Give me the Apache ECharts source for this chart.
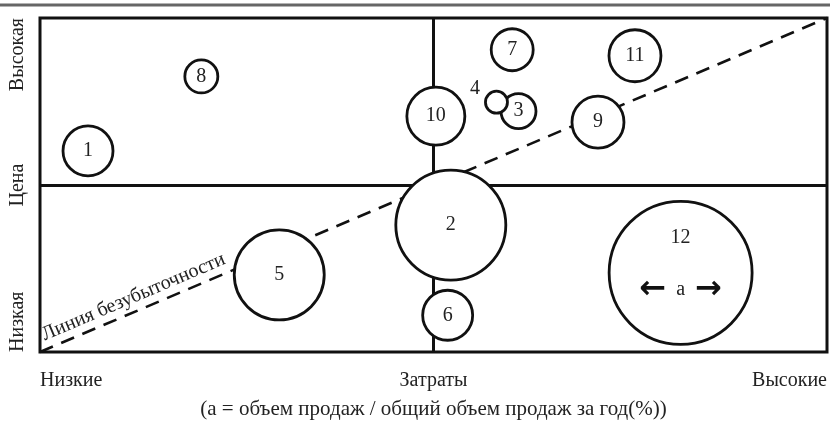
<!DOCTYPE html>
<html lang="ru">
<head>
<meta charset="UTF-8">
<title>Затраты / Цена</title>
<script src="https://cdn.jsdelivr.net/npm/echarts@6/dist/echarts.min.js"></script>
<style>
  html, body { margin: 0; padding: 0; background: #fff; }
  #Main { width: 830px; height: 425px; }
</style>
</head>
<body>
<div id="Main"></div>
<script type="text/javascript">
// номера товаров
var names = ['1', '2', '3', '4', '5', '6', '7', '8', '9', '10', '11', '12'];
// затраты (0..100)
var costs = [6.1, 52.2, 60.8, 58.0, 30.4, 51.8, 60.0, 20.5, 70.9, 50.3, 75.6, 81.4];
// цена (0..100)
var prices = [60.2, 38.0, 72.1, 74.8, 23.1, 11.0, 90.5, 82.5, 68.8, 70.6, 88.7, 23.7];
// a = доля продаж
var shares = [5.0, 11.0, 3.5, 2.2, 9.0, 5.0, 4.2, 3.3, 5.2, 5.8, 5.2, 14.3];
// подписи осей
var xTicks = ['Низкие', 'Затраты', 'Высокие'];
var yTicks = ['Низкая', 'Цена', 'Высокая'];

var serif = '"Liberation Serif", "Times New Roman", serif';
var myChart = echarts.init(document.getElementById('Main'), null, { renderer: 'canvas' });

var points = [];
for (var i = 0; i < names.length; i++) {
    var item = { value: [costs[i], prices[i], shares[i]], name: names[i] };
    if (names[i] === '4') {
        item.label = { position: 'left', distance: 4, offset: [0, -13] };
    }
    if (names[i] === '12') {
        item.label = {
            formatter: '12\n\n{arr|←}  a  {arr|→}',
            lineHeight: 26,
            offset: [0, -9]
        };
    }
    points.push(item);
}

myChart.setOption({
    animation: false,
    graphic: [{
        type: 'line',
        shape: { x1: 0, y1: 5, x2: 830, y2: 5 },
        style: { stroke: '#666', lineWidth: 3 }
    }],
    grid: {
        left: 40, right: -2, top: 18, bottom: 70,
        show: true, borderColor: '#111', borderWidth: 3
    },
    xAxis: {
        type: 'value', min: 0, max: 100, interval: 50,
        axisLine: { show: false }, axisTick: { show: false }, splitLine: { show: false },
        axisLabel: {
            margin: 19, color: '#222', fontFamily: serif, fontSize: 20,
            alignMinLabel: 'left', alignMaxLabel: 'right',
            formatter: function (v) { return xTicks[Math.round(v / 50)]; }
        },
        name: '(a = объем продаж / общий объем продаж за год(%))',
        nameLocation: 'middle', nameGap: 47,
        nameTextStyle: { color: '#222', fontFamily: serif, fontSize: 21 }
    },
    yAxis: {
        type: 'value', min: 0, max: 100, interval: 50,
        axisLine: { show: false }, axisTick: { show: false }, splitLine: { show: false },
        axisLabel: {
            rotate: 90, margin: 12, color: '#222', fontFamily: serif, fontSize: 20,
            alignMinLabel: 'left', alignMaxLabel: 'right',
            formatter: function (v) { return yTicks[Math.round(v / 50)]; }
        }
    },
    series: [{
        // квадранты и линия безубыточности
        type: 'scatter', data: [], z: 1, silent: true,
        markLine: {
            silent: true, symbol: 'none', animation: false,
            lineStyle: { color: '#111', width: 3, type: 'solid' },
            label: { show: false },
            data: [
                { xAxis: 50 },
                { yAxis: 50 },
                [{
                    coord: [0, 0],
                    lineStyle: { type: [14, 9], width: 2.6 },
                    label: {
                        show: true, position: 'insideStartTop', distance: 4,
                        formatter: ' Линия безубыточности',
                        color: '#222', fontFamily: serif, fontSize: 20
                    }
                }, { coord: [100, 100] }]
            ]
        }
    }, {
        type: 'scatter', z: 5,
        data: points,
        symbolSize: function (val) { return val[2] * 10; },
        itemStyle: { color: '#fff', borderColor: '#111', borderWidth: 2.8, opacity: 1 },
        label: {
            show: true, position: 'inside', color: '#222',
            fontFamily: serif, fontSize: 20,
            formatter: function (p) { return p.name; },
            rich: {
                arr: { fontFamily: '"DejaVu Sans", sans-serif', fontSize: 32, fontWeight: 'bold', color: '#111', lineHeight: 26 }
            }
        }
    }]
});

window.addEventListener('resize', function () { myChart.resize(); });
</script>
</body>
</html>
